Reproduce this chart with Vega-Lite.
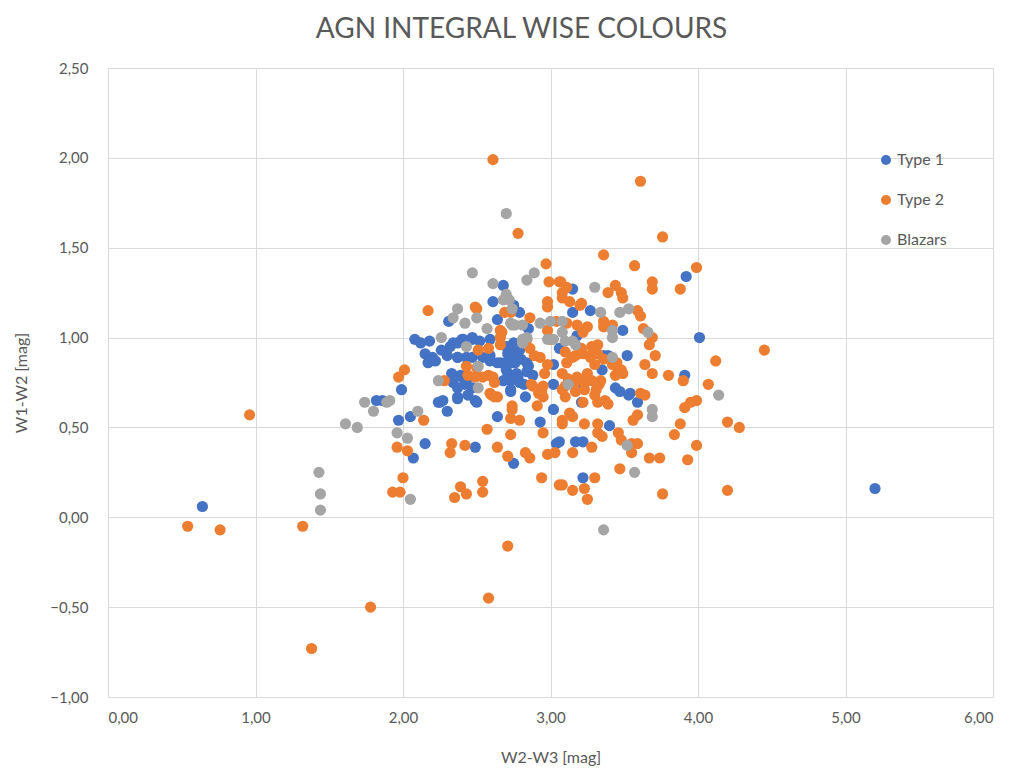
{
  "$schema": "https://vega.github.io/schema/vega-lite/v6.json",
  "width": 885,
  "height": 629,
  "autosize": {"type": "none"},
  "padding": {"left": 108, "top": 68, "right": 24, "bottom": 75},
  "background": "white",
  "title": {"text": "AGN INTEGRAL WISE COLOURS", "font": "Lato", "fontSize": 28, "fontWeight": "normal", "color": "#595959", "anchor": "middle", "dx": -29, "offset": 17},
  "config": {
    "view": {"stroke": null},
    "axis": {"grid": true, "gridColor": "#D9D9D9", "gridWidth": 1, "domain": false, "ticks": false, "labelFont": "Lato", "labelFontSize": 15, "labelColor": "#595959", "titleFont": "Lato", "titleFontSize": 16, "titleFontWeight": "normal", "titleColor": "#595959"},
    "legend": {"labelFont": "Lato", "labelFontSize": 16, "labelColor": "#595959"}
  },
  "data": {"values": [
    {"s":"Type 1","x":0.64,"y":0.06},{"s":"Type 1","x":5.2,"y":0.16},{"s":"Type 1","x":4.01,"y":1.0},{"s":"Type 1","x":3.92,"y":1.34},{"s":"Type 1","x":3.91,"y":0.79},
    {"s":"Type 1","x":2.68,"y":1.29},{"s":"Type 1","x":2.61,"y":1.2},{"s":"Type 1","x":2.79,"y":1.14},{"s":"Type 1","x":2.31,"y":1.09},{"s":"Type 1","x":2.64,"y":1.1},
    {"s":"Type 1","x":2.08,"y":0.99},{"s":"Type 1","x":2.18,"y":0.98},{"s":"Type 1","x":2.34,"y":0.97},{"s":"Type 1","x":2.4,"y":0.99},{"s":"Type 1","x":2.47,"y":0.99},
    {"s":"Type 1","x":2.52,"y":0.98},{"s":"Type 1","x":2.59,"y":0.99},{"s":"Type 1","x":2.75,"y":0.97},{"s":"Type 1","x":2.79,"y":0.93},{"s":"Type 1","x":2.71,"y":0.91},
    {"s":"Type 1","x":2.15,"y":0.91},{"s":"Type 1","x":2.2,"y":0.89},{"s":"Type 1","x":2.17,"y":0.86},{"s":"Type 1","x":2.3,"y":0.9},{"s":"Type 1","x":2.37,"y":0.89},
    {"s":"Type 1","x":2.43,"y":0.89},{"s":"Type 1","x":2.59,"y":0.87},{"s":"Type 1","x":2.66,"y":0.86},{"s":"Type 1","x":2.75,"y":0.86},{"s":"Type 1","x":2.84,"y":0.86},
    {"s":"Type 1","x":3.02,"y":0.85},{"s":"Type 1","x":2.33,"y":0.8},{"s":"Type 1","x":2.4,"y":0.78},{"s":"Type 1","x":2.34,"y":0.75},{"s":"Type 1","x":2.42,"y":0.74},
    {"s":"Type 1","x":2.71,"y":0.8},{"s":"Type 1","x":2.77,"y":0.8},{"s":"Type 1","x":2.84,"y":0.81},{"s":"Type 1","x":3.02,"y":0.74},{"s":"Type 1","x":1.99,"y":0.71},
    {"s":"Type 1","x":2.24,"y":0.64},{"s":"Type 1","x":2.3,"y":0.59},{"s":"Type 1","x":2.37,"y":0.66},{"s":"Type 1","x":2.5,"y":0.64},{"s":"Type 1","x":2.73,"y":0.7},
    {"s":"Type 1","x":2.64,"y":0.56},{"s":"Type 1","x":2.93,"y":0.53},{"s":"Type 1","x":3.02,"y":0.6},{"s":"Type 1","x":1.86,"y":0.65},{"s":"Type 1","x":1.82,"y":0.65},{"s":"Type 1","x":2.05,"y":0.56},
    {"s":"Type 1","x":1.97,"y":0.54},{"s":"Type 1","x":3.15,"y":1.14},{"s":"Type 1","x":3.27,"y":1.15},{"s":"Type 1","x":3.49,"y":1.04},{"s":"Type 1","x":3.39,"y":0.9},
    {"s":"Type 1","x":3.52,"y":0.9},{"s":"Type 1","x":3.35,"y":0.82},{"s":"Type 1","x":3.47,"y":0.7},{"s":"Type 1","x":3.53,"y":0.68},{"s":"Type 1","x":3.59,"y":0.64},
    {"s":"Type 1","x":3.4,"y":0.51},{"s":"Type 1","x":3.15,"y":0.75},{"s":"Type 1","x":3.17,"y":0.74},{"s":"Type 1","x":3.21,"y":0.64},{"s":"Type 1","x":3.06,"y":0.42},
    {"s":"Type 1","x":3.17,"y":0.42},{"s":"Type 1","x":3.22,"y":0.42},{"s":"Type 1","x":3.22,"y":0.22},{"s":"Type 1","x":2.15,"y":0.41},{"s":"Type 1","x":2.07,"y":0.33},
    {"s":"Type 1","x":2.49,"y":0.39},{"s":"Type 1","x":2.75,"y":0.3},{"s":"Type 1","x":3.04,"y":0.41},{"s":"Type 1","x":3.15,"y":1.27},{"s":"Type 1","x":3.06,"y":0.94},
    {"s":"Type 1","x":3.18,"y":1.01},{"s":"Type 1","x":2.73,"y":0.76},{"s":"Type 1","x":2.75,"y":1.18},{"s":"Type 1","x":2.18,"y":0.87},{"s":"Type 1","x":2.22,"y":0.87},
    {"s":"Type 1","x":2.32,"y":0.95},{"s":"Type 1","x":2.37,"y":0.97},{"s":"Type 1","x":2.41,"y":0.99},{"s":"Type 1","x":2.47,"y":1.0},{"s":"Type 1","x":2.54,"y":0.89},
    {"s":"Type 1","x":2.59,"y":0.9},{"s":"Type 1","x":2.73,"y":0.91},{"s":"Type 1","x":2.77,"y":0.93},{"s":"Type 1","x":2.76,"y":0.86},{"s":"Type 1","x":2.69,"y":0.86},
    {"s":"Type 1","x":2.64,"y":0.86},{"s":"Type 1","x":2.47,"y":0.89},{"s":"Type 1","x":2.37,"y":0.89},{"s":"Type 1","x":2.39,"y":0.79},{"s":"Type 1","x":2.43,"y":0.76},
    {"s":"Type 1","x":2.47,"y":0.72},{"s":"Type 1","x":2.37,"y":0.72},{"s":"Type 1","x":2.44,"y":0.68},{"s":"Type 1","x":2.49,"y":0.65},{"s":"Type 1","x":2.37,"y":0.67},
    {"s":"Type 1","x":2.27,"y":0.65},{"s":"Type 1","x":2.25,"y":0.64},{"s":"Type 1","x":2.73,"y":0.71},{"s":"Type 1","x":2.79,"y":0.75},{"s":"Type 1","x":2.83,"y":0.67},
    {"s":"Type 1","x":3.36,"y":0.9},{"s":"Type 1","x":3.44,"y":0.72},{"s":"Type 1","x":3.54,"y":0.69},{"s":"Type 1","x":2.7,"y":0.95},{"s":"Type 1","x":2.75,"y":0.9},
    {"s":"Type 1","x":2.8,"y":0.88},{"s":"Type 1","x":2.85,"y":0.84},{"s":"Type 1","x":2.7,"y":0.82},{"s":"Type 1","x":2.78,"y":0.78},{"s":"Type 1","x":2.82,"y":0.74},
    {"s":"Type 1","x":2.68,"y":0.76},{"s":"Type 1","x":2.88,"y":0.79},{"s":"Type 1","x":2.85,"y":1.05},{"s":"Type 1","x":2.12,"y":0.97},{"s":"Type 1","x":2.26,"y":0.93},

    {"s":"Type 2","x":0.54,"y":-0.05},{"s":"Type 2","x":0.76,"y":-0.07},{"s":"Type 2","x":0.96,"y":0.57},{"s":"Type 2","x":1.32,"y":-0.05},{"s":"Type 2","x":1.38,"y":-0.73},
    {"s":"Type 2","x":1.78,"y":-0.5},{"s":"Type 2","x":2.58,"y":-0.45},{"s":"Type 2","x":2.71,"y":-0.16},{"s":"Type 2","x":2.61,"y":1.99},{"s":"Type 2","x":3.61,"y":1.87},
    {"s":"Type 2","x":2.78,"y":1.58},{"s":"Type 2","x":3.76,"y":1.56},{"s":"Type 2","x":4.45,"y":0.93},{"s":"Type 2","x":4.28,"y":0.5},{"s":"Type 2","x":4.2,"y":0.53},
    {"s":"Type 2","x":4.2,"y":0.15},{"s":"Type 2","x":3.76,"y":0.13},{"s":"Type 2","x":3.99,"y":1.39},{"s":"Type 2","x":2.97,"y":1.41},{"s":"Type 2","x":3.06,"y":1.31},
    {"s":"Type 2","x":3.11,"y":1.28},{"s":"Type 2","x":2.98,"y":1.2},{"s":"Type 2","x":3.08,"y":1.22},{"s":"Type 2","x":3.13,"y":1.2},{"s":"Type 2","x":2.17,"y":1.15},
    {"s":"Type 2","x":2.5,"y":1.16},{"s":"Type 2","x":2.69,"y":1.14},{"s":"Type 2","x":2.86,"y":1.11},{"s":"Type 2","x":3.04,"y":1.09},{"s":"Type 2","x":3.11,"y":1.08},
    {"s":"Type 2","x":2.98,"y":1.04},{"s":"Type 2","x":3.0,"y":0.99},{"s":"Type 2","x":2.51,"y":0.93},{"s":"Type 2","x":2.58,"y":0.94},{"s":"Type 2","x":2.66,"y":1.0},
    {"s":"Type 2","x":2.66,"y":0.96},{"s":"Type 2","x":2.84,"y":0.99},{"s":"Type 2","x":2.86,"y":0.94},{"s":"Type 2","x":2.89,"y":0.9},{"s":"Type 2","x":2.93,"y":0.89},
    {"s":"Type 2","x":2.98,"y":0.85},{"s":"Type 2","x":2.96,"y":0.8},{"s":"Type 2","x":3.11,"y":0.86},{"s":"Type 2","x":3.15,"y":0.89},{"s":"Type 2","x":2.43,"y":0.84},
    {"s":"Type 2","x":2.5,"y":0.83},{"s":"Type 2","x":2.54,"y":0.78},{"s":"Type 2","x":2.61,"y":0.78},{"s":"Type 2","x":2.28,"y":0.76},{"s":"Type 2","x":2.87,"y":0.74},
    {"s":"Type 2","x":2.92,"y":0.69},{"s":"Type 2","x":2.95,"y":0.67},{"s":"Type 2","x":2.91,"y":0.62},{"s":"Type 2","x":3.08,"y":0.71},{"s":"Type 2","x":3.1,"y":0.67},
    {"s":"Type 2","x":2.01,"y":0.82},{"s":"Type 2","x":1.97,"y":0.78},{"s":"Type 2","x":2.59,"y":0.69},{"s":"Type 2","x":2.62,"y":0.67},{"s":"Type 2","x":2.74,"y":0.6},
    {"s":"Type 2","x":2.73,"y":0.55},{"s":"Type 2","x":2.79,"y":0.54},{"s":"Type 2","x":3.08,"y":0.54},{"s":"Type 2","x":3.13,"y":0.58},{"s":"Type 2","x":2.14,"y":0.54},
    {"s":"Type 2","x":3.36,"y":1.46},{"s":"Type 2","x":3.57,"y":1.4},{"s":"Type 2","x":3.69,"y":1.31},{"s":"Type 2","x":3.69,"y":1.27},{"s":"Type 2","x":3.88,"y":1.27},
    {"s":"Type 2","x":3.39,"y":1.25},{"s":"Type 2","x":3.44,"y":1.29},{"s":"Type 2","x":3.48,"y":1.25},{"s":"Type 2","x":3.49,"y":1.22},{"s":"Type 2","x":3.21,"y":1.19},
    {"s":"Type 2","x":3.59,"y":1.15},{"s":"Type 2","x":3.61,"y":1.12},{"s":"Type 2","x":3.25,"y":1.06},{"s":"Type 2","x":3.22,"y":1.03},{"s":"Type 2","x":3.36,"y":1.06},
    {"s":"Type 2","x":3.63,"y":1.05},{"s":"Type 2","x":3.69,"y":1.0},{"s":"Type 2","x":3.67,"y":0.96},{"s":"Type 2","x":3.32,"y":0.96},{"s":"Type 2","x":3.29,"y":0.92},
    {"s":"Type 2","x":3.27,"y":0.89},{"s":"Type 2","x":3.22,"y":0.91},{"s":"Type 2","x":3.45,"y":0.86},{"s":"Type 2","x":3.48,"y":0.82},{"s":"Type 2","x":3.45,"y":0.84},
    {"s":"Type 2","x":3.25,"y":0.8},{"s":"Type 2","x":3.23,"y":0.75},{"s":"Type 2","x":3.34,"y":0.76},{"s":"Type 2","x":3.64,"y":0.85},{"s":"Type 2","x":3.69,"y":0.8},
    {"s":"Type 2","x":3.8,"y":0.79},{"s":"Type 2","x":3.9,"y":0.76},{"s":"Type 2","x":4.12,"y":0.87},{"s":"Type 2","x":4.07,"y":0.74},{"s":"Type 2","x":3.99,"y":0.65},
    {"s":"Type 2","x":3.95,"y":0.64},{"s":"Type 2","x":3.91,"y":0.61},{"s":"Type 2","x":3.61,"y":0.69},{"s":"Type 2","x":3.64,"y":0.68},{"s":"Type 2","x":3.3,"y":0.68},
    {"s":"Type 2","x":3.37,"y":0.65},{"s":"Type 2","x":3.32,"y":0.64},{"s":"Type 2","x":3.59,"y":0.57},{"s":"Type 2","x":3.88,"y":0.52},{"s":"Type 2","x":3.32,"y":0.52},
    {"s":"Type 2","x":3.23,"y":0.52},{"s":"Type 2","x":3.22,"y":0.64},{"s":"Type 2","x":3.33,"y":0.74},{"s":"Type 2","x":3.39,"y":0.63},{"s":"Type 2","x":3.15,"y":0.56},
    {"s":"Type 2","x":3.08,"y":0.52},{"s":"Type 2","x":3.32,"y":0.47},{"s":"Type 2","x":3.35,"y":0.45},{"s":"Type 2","x":3.46,"y":0.47},{"s":"Type 2","x":3.48,"y":0.43},
    {"s":"Type 2","x":3.55,"y":0.41},{"s":"Type 2","x":3.59,"y":0.41},{"s":"Type 2","x":3.55,"y":0.36},{"s":"Type 2","x":3.84,"y":0.46},{"s":"Type 2","x":3.99,"y":0.4},
    {"s":"Type 2","x":3.93,"y":0.32},{"s":"Type 2","x":3.67,"y":0.33},{"s":"Type 2","x":3.74,"y":0.33},{"s":"Type 2","x":3.47,"y":0.27},{"s":"Type 2","x":3.28,"y":0.39},
    {"s":"Type 2","x":3.15,"y":0.36},{"s":"Type 2","x":3.3,"y":0.22},{"s":"Type 2","x":3.23,"y":0.16},{"s":"Type 2","x":3.25,"y":0.1},{"s":"Type 2","x":3.15,"y":0.15},
    {"s":"Type 2","x":3.08,"y":0.18},{"s":"Type 2","x":1.96,"y":0.39},{"s":"Type 2","x":2.03,"y":0.37},{"s":"Type 2","x":2.33,"y":0.41},{"s":"Type 2","x":2.42,"y":0.4},
    {"s":"Type 2","x":2.32,"y":0.36},{"s":"Type 2","x":2.64,"y":0.39},{"s":"Type 2","x":2.73,"y":0.46},{"s":"Type 2","x":2.57,"y":0.49},{"s":"Type 2","x":2.71,"y":0.34},
    {"s":"Type 2","x":2.83,"y":0.36},{"s":"Type 2","x":2.86,"y":0.33},{"s":"Type 2","x":2.95,"y":0.47},{"s":"Type 2","x":2.98,"y":0.35},{"s":"Type 2","x":3.03,"y":0.36},
    {"s":"Type 2","x":2.0,"y":0.22},{"s":"Type 2","x":1.93,"y":0.14},{"s":"Type 2","x":1.98,"y":0.14},{"s":"Type 2","x":2.39,"y":0.17},{"s":"Type 2","x":2.35,"y":0.11},
    {"s":"Type 2","x":2.43,"y":0.13},{"s":"Type 2","x":2.54,"y":0.2},{"s":"Type 2","x":2.54,"y":0.14},{"s":"Type 2","x":2.94,"y":0.22},{"s":"Type 2","x":3.06,"y":0.18},
    {"s":"Type 2","x":2.99,"y":1.31},{"s":"Type 2","x":3.07,"y":1.31},{"s":"Type 2","x":3.08,"y":1.25},{"s":"Type 2","x":3.2,"y":1.18},{"s":"Type 2","x":2.98,"y":1.17},
    {"s":"Type 2","x":2.73,"y":1.14},{"s":"Type 2","x":3.36,"y":1.09},{"s":"Type 2","x":3.42,"y":1.07},{"s":"Type 2","x":3.18,"y":1.07},{"s":"Type 2","x":2.66,"y":1.04},
    {"s":"Type 2","x":3.1,"y":0.92},{"s":"Type 2","x":3.17,"y":0.9},{"s":"Type 2","x":3.21,"y":0.94},{"s":"Type 2","x":3.28,"y":0.95},{"s":"Type 2","x":3.32,"y":0.91},
    {"s":"Type 2","x":3.3,"y":0.85},{"s":"Type 2","x":3.36,"y":0.88},{"s":"Type 2","x":3.42,"y":0.85},{"s":"Type 2","x":3.46,"y":0.82},{"s":"Type 2","x":3.49,"y":0.8},
    {"s":"Type 2","x":3.44,"y":0.79},{"s":"Type 2","x":3.08,"y":0.8},{"s":"Type 2","x":3.12,"y":0.77},{"s":"Type 2","x":3.18,"y":0.78},{"s":"Type 2","x":3.24,"y":0.77},
    {"s":"Type 2","x":3.16,"y":0.74},{"s":"Type 2","x":3.1,"y":0.73},{"s":"Type 2","x":3.17,"y":0.7},{"s":"Type 2","x":3.28,"y":0.76},{"s":"Type 2","x":3.31,"y":0.71},
    {"s":"Type 2","x":3.23,"y":0.71},{"s":"Type 2","x":2.95,"y":0.73},{"s":"Type 2","x":2.94,"y":0.7},{"s":"Type 2","x":2.88,"y":0.73},{"s":"Type 2","x":2.67,"y":1.03},
    {"s":"Type 2","x":2.44,"y":0.79},{"s":"Type 2","x":2.49,"y":0.78},{"s":"Type 2","x":2.58,"y":0.79},{"s":"Type 2","x":2.62,"y":0.75},{"s":"Type 2","x":2.6,"y":0.68},
    {"s":"Type 2","x":2.64,"y":0.67},{"s":"Type 2","x":2.74,"y":0.62},{"s":"Type 2","x":2.49,"y":1.17},{"s":"Type 2","x":3.56,"y":0.54},{"s":"Type 2","x":3.71,"y":0.9},

    {"s":"Blazars","x":2.7,"y":1.69},{"s":"Blazars","x":3.36,"y":-0.07},{"s":"Blazars","x":1.43,"y":0.25},{"s":"Blazars","x":1.44,"y":0.13},{"s":"Blazars","x":1.44,"y":0.04},
    {"s":"Blazars","x":1.61,"y":0.52},{"s":"Blazars","x":1.69,"y":0.5},{"s":"Blazars","x":2.05,"y":0.1},{"s":"Blazars","x":4.14,"y":0.68},{"s":"Blazars","x":3.57,"y":0.25},
    {"s":"Blazars","x":2.47,"y":1.36},{"s":"Blazars","x":2.84,"y":1.32},{"s":"Blazars","x":2.89,"y":1.36},{"s":"Blazars","x":2.61,"y":1.3},{"s":"Blazars","x":2.7,"y":1.24},
    {"s":"Blazars","x":2.37,"y":1.16},{"s":"Blazars","x":2.34,"y":1.11},{"s":"Blazars","x":2.74,"y":1.16},{"s":"Blazars","x":2.5,"y":1.11},{"s":"Blazars","x":2.57,"y":1.05},
    {"s":"Blazars","x":2.74,"y":1.07},{"s":"Blazars","x":2.81,"y":1.07},{"s":"Blazars","x":2.93,"y":1.08},{"s":"Blazars","x":3.08,"y":1.03},{"s":"Blazars","x":3.15,"y":0.98},
    {"s":"Blazars","x":2.26,"y":1.0},{"s":"Blazars","x":2.43,"y":0.95},{"s":"Blazars","x":2.81,"y":0.99},{"s":"Blazars","x":2.51,"y":0.84},{"s":"Blazars","x":2.24,"y":0.76},
    {"s":"Blazars","x":1.91,"y":0.65},{"s":"Blazars","x":1.89,"y":0.64},{"s":"Blazars","x":2.1,"y":0.59},{"s":"Blazars","x":2.51,"y":0.72},{"s":"Blazars","x":3.3,"y":1.28},
    {"s":"Blazars","x":3.34,"y":1.14},{"s":"Blazars","x":3.47,"y":1.14},{"s":"Blazars","x":3.53,"y":1.16},{"s":"Blazars","x":3.42,"y":1.04},{"s":"Blazars","x":3.42,"y":1.0},
    {"s":"Blazars","x":3.66,"y":1.03},{"s":"Blazars","x":3.42,"y":0.89},{"s":"Blazars","x":3.69,"y":0.6},{"s":"Blazars","x":3.69,"y":0.56},{"s":"Blazars","x":3.52,"y":0.4},
    {"s":"Blazars","x":1.96,"y":0.47},{"s":"Blazars","x":2.03,"y":0.44},{"s":"Blazars","x":1.74,"y":0.64},{"s":"Blazars","x":1.8,"y":0.59},{"s":"Blazars","x":2.84,"y":1.0},
    {"s":"Blazars","x":2.98,"y":0.99},{"s":"Blazars","x":3.02,"y":0.99},{"s":"Blazars","x":3.1,"y":0.98},{"s":"Blazars","x":3.17,"y":0.96},{"s":"Blazars","x":2.73,"y":1.08},
    {"s":"Blazars","x":3.0,"y":1.09},{"s":"Blazars","x":3.08,"y":1.09},{"s":"Blazars","x":2.72,"y":1.21},{"s":"Blazars","x":2.42,"y":1.08},{"s":"Blazars","x":2.68,"y":1.21},
    {"s":"Blazars","x":2.76,"y":1.07},{"s":"Blazars","x":2.81,"y":0.97},{"s":"Blazars","x":3.12,"y":0.74}
  ]},
  "mark": {"type": "circle", "size": 125, "opacity": 1},
  "encoding": {
    "x": {"field": "x", "type": "quantitative", "title": "W2-W3 [mag]",
      "scale": {"domain": [0, 6], "nice": false, "zero": false},
      "axis": {"values": [0,1,2,3,4,5,6], "labelExpr": "replace(format(datum.value, '.2f'), '.', ',')", "labelPadding": 13, "titlePadding": 24}},
    "y": {"field": "y", "type": "quantitative", "title": "W1-W2 [mag]",
      "scale": {"domain": [-1, 2.5], "nice": false, "zero": false},
      "axis": {"values": [-1,-0.5,0,0.5,1,1.5,2,2.5], "labelExpr": "replace(format(datum.value, '.2f'), '.', ',')", "labelPadding": 20, "titlePadding": 20}},
    "color": {"field": "s", "type": "nominal", "title": null,
      "scale": {"domain": ["Type 1", "Type 2", "Blazars"], "range": ["#4472C4", "#ED7D31", "#A5A5A5"]},
      "legend": {"orient": "none", "legendX": 770, "legendY": 84, "symbolType": "circle", "symbolSize": 100, "symbolOpacity": 1, "rowPadding": 24, "labelOffset": 3, "padding": 0}}
  }
}
